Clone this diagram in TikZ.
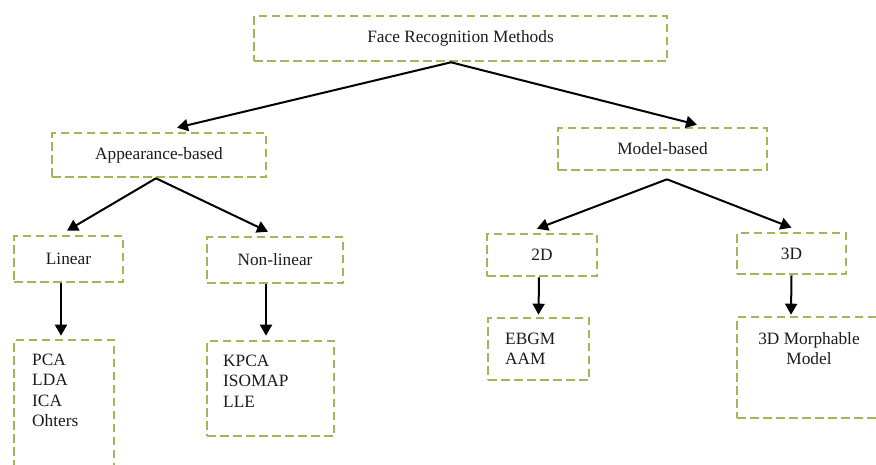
\documentclass[tikz,border=0pt]{standalone}
\usepackage{fontspec}
\setmainfont{Liberation Serif}
\usetikzlibrary{arrows.meta}
\definecolor{boxgreen}{HTML}{9BBB59}
\definecolor{txt}{HTML}{1A1A1A}
\begin{document}
\begin{tikzpicture}[x=1pt,y=-1pt,
  box/.style={draw=boxgreen, line width=2.6pt, dash pattern=on 8.5pt off 4.5pt, rectangle, inner sep=0pt, text=txt,
    font=\fontsize{17.3}{20.5}\selectfont},
  lbl/.style={inner sep=0pt, text=txt, font=\fontsize{17.3}{20.5}\selectfont},
  arr/.style={draw=black, line width=2pt, -{Triangle[length=11pt,width=12pt]}}]
\useasboundingbox (0,0) rectangle (876,464);
% boxes
\node[box, minimum width=413pt, minimum height=45pt] (top) at (460.5,38.5) {Face Recognition Methods};
\node[box, minimum width=214pt, minimum height=44pt] (app) at (159,155) {Appearance-based};
\node[box, minimum width=209pt, minimum height=42pt] (model) at (662.5,149) {Model-based};
\node[box, minimum width=109pt, minimum height=46pt] (lin) at (68.5,259) {Linear};
\node[box, minimum width=136pt, minimum height=46pt] (nonlin) at (275,260) {Non-linear};
\node[box, minimum width=110pt, minimum height=42pt] (d2) at (542,255) {2D};
\node[box, minimum width=109pt, minimum height=41pt] (d3) at (791.5,253.5) {3D};
\node[box, minimum width=100pt, minimum height=135pt] (linlist) at (64,407.5) {};
\node[box, minimum width=127pt, minimum height=95pt] (nllist) at (270.5,388.5) {};
\node[box, minimum width=101pt, minimum height=62pt] (ebgm) at (538.5,349) {};
\node[box, minimum width=149pt, minimum height=101pt] (morph) at (811.5,367.5) {};
% list texts
\node[lbl, anchor=north west, align=left] (lintxt) at (32,353.5) {PCA\\LDA\\ICA\\Ohters};
\node[lbl, anchor=north west, align=left] (nltxt) at (223,354.5) {KPCA\\ISOMAP\\LLE};
\node[lbl, anchor=north west, align=left] (ebgmtxt) at (505,332.5) {EBGM\\AAM};
\node[lbl, anchor=north, align=center] (morphtxt) at (809,332) {3D Morphable\\Model};
% connectors
\draw[arr] ([xshift=-9.5pt]top.south) -- ([xshift=18pt,yshift=4pt]app.north);
\draw[arr] ([xshift=-9.5pt]top.south) -- ([xshift=34.5pt,yshift=2pt]model.north);
\draw[arr] ([xshift=-3pt]app.south) -- ([xshift=-1.5pt,yshift=4pt]lin.north);
\draw[arr] ([xshift=-3pt]app.south) -- ([xshift=-7pt,yshift=4pt]nonlin.north);
\draw[arr] ([xshift=4.5pt,yshift=-8pt]model.south) -- ([xshift=-5pt,yshift=4pt]d2.north);
\draw[arr] ([xshift=4.5pt,yshift=-8pt]model.south) -- ([yshift=4pt]d3.north);
\draw[arr] ([xshift=-7.5pt]lin.south) -- ([xshift=-3pt,yshift=3pt]linlist.north);
\draw[arr] ([xshift=-9pt]nonlin.south) -- ([xshift=-4.5pt,yshift=4pt]nllist.north);
\draw[arr] ([xshift=-3pt]d2.south) -- ([yshift=2pt]ebgm.north);
\draw[arr] (d3.south) -- ([xshift=-20.5pt,yshift=1pt]morph.north);
\end{tikzpicture}
\end{document}
